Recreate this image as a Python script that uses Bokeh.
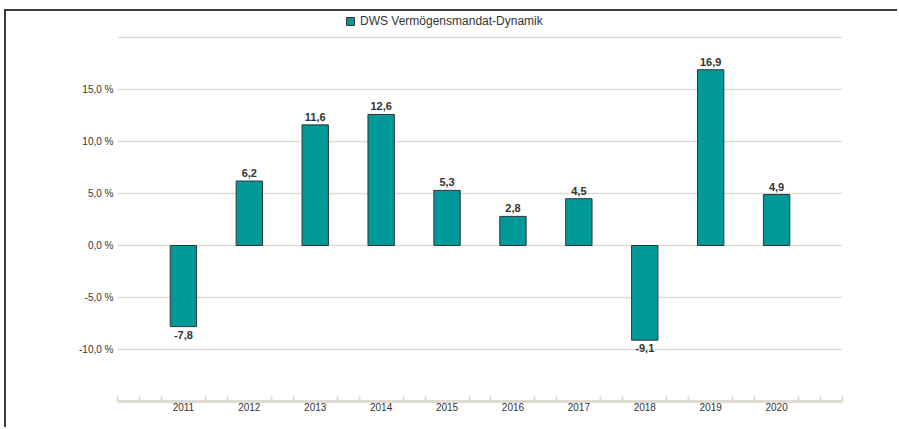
from bokeh.plotting import figure
from bokeh.models import ColumnDataSource, FixedTicker, Legend, LegendItem, Range1d
from bokeh.core.properties import value
from bokeh.embed import file_html
from bokeh.resources import INLINE

years = ["2011", "2012", "2013", "2014", "2015", "2016", "2017", "2018", "2019", "2020"]
returns = [-7.8, 6.2, 11.6, 12.6, 5.3, 2.8, 4.5, -9.1, 16.9, 4.9]
series_name = "DWS Vermögensmandat-Dynamik"
y_ticks = [-15, -10, -5, 0, 5, 10, 15, 20]

xs = list(range(1, len(years) + 1))
labels = [f"{v:.1f}".replace(".", ",") for v in returns]

src = ColumnDataSource(dict(x=xs, top=returns, label=labels))
pos = ColumnDataSource(dict(x=[x for x, v in zip(xs, returns) if v >= 0],
                            y=[v for v in returns if v >= 0],
                            label=[l for l, v in zip(labels, returns) if v >= 0]))
neg = ColumnDataSource(dict(x=[x for x, v in zip(xs, returns) if v < 0],
                            y=[v for v in returns if v < 0],
                            label=[l for l, v in zip(labels, returns) if v < 0]))

FONT = "Liberation Sans"
TXT = "#333333"
GRID = "#dedbd3"

p = figure(width=893, height=418, output_backend="svg", toolbar_location=None,
           x_range=Range1d(0, len(years) + 1), y_range=Range1d(-15, 22.5),
           min_border_left=111, min_border_right=57, min_border_top=0, min_border_bottom=28)
p.styles = {"margin-left": "4px", "margin-top": "9px",
            "border-left": "2px solid #3c3c3c", "border-top": "2px solid #3c3c3c"}
p.outline_line_color = None
p.background_fill_color = "white"
p.border_fill_color = "white"

bars = p.vbar(x="x", top="top", bottom=0, width=0.4, source=src,
              fill_color="#009999", line_color="#333333", line_width=1)

p.text(x="x", y="y", text="label", source=pos, text_align="center", text_baseline="bottom",
       y_offset=-4, text_font=value(FONT), text_font_size="11px", text_font_style="bold",
       text_color=TXT)
p.text(x="x", y="y", text="label", source=neg, text_align="center", text_baseline="top",
       y_offset=4, text_font=value(FONT), text_font_size="11px", text_font_style="bold",
       text_color=TXT)

# y axis
p.yaxis.ticker = FixedTicker(ticks=y_ticks, minor_ticks=[])
p.yaxis.major_label_overrides = {t: (f"{t:.1f}".replace(".", ",") + " %" if -15 < t < 20 else "")
                                 for t in y_ticks}
p.yaxis.axis_line_color = None
p.yaxis.major_tick_line_color = None
p.yaxis.minor_tick_line_color = None
p.yaxis.major_tick_out = 0
p.yaxis.major_label_standoff = 4
p.yaxis.major_label_text_font = FONT
p.yaxis.major_label_text_font_size = "10px"
p.yaxis.major_label_text_color = TXT
p.ygrid.grid_line_color = GRID
p.ygrid.grid_line_width = 1.5

# x axis
n = len(years) + 1
minor = [k / 3 for k in range(0, 3 * n + 1) if k % 3 != 0 or k in (0, 3 * n)]
p.xaxis.ticker = FixedTicker(ticks=xs, minor_ticks=minor)
p.xaxis.major_label_overrides = {x: y for x, y in zip(xs, years)}
p.xaxis.axis_line_color = GRID
p.xaxis.axis_line_width = 3
p.xaxis.major_tick_line_color = None
p.xaxis.major_tick_in = 0
p.xaxis.major_tick_out = 0
p.xaxis.minor_tick_line_color = GRID
p.xaxis.minor_tick_line_width = 2
p.xaxis.minor_tick_in = 5
p.xaxis.minor_tick_out = 0
p.xaxis.major_label_standoff = 1
p.xaxis.major_label_text_font = FONT
p.xaxis.major_label_text_font_size = "10px"
p.xaxis.major_label_text_color = TXT
p.xgrid.grid_line_color = None

legend = Legend(items=[LegendItem(label=series_name, renderers=[bars])],
                location=(228, 373), orientation="horizontal",
                padding=0, margin=0, spacing=0, label_standoff=5,
                glyph_width=10, glyph_height=10,
                label_text_font=FONT, label_text_font_size="12px", label_text_color=TXT,
                border_line_color=None, background_fill_alpha=0)
p.add_layout(legend, "center")

open("out.html", "w").write(file_html(p, INLINE))
